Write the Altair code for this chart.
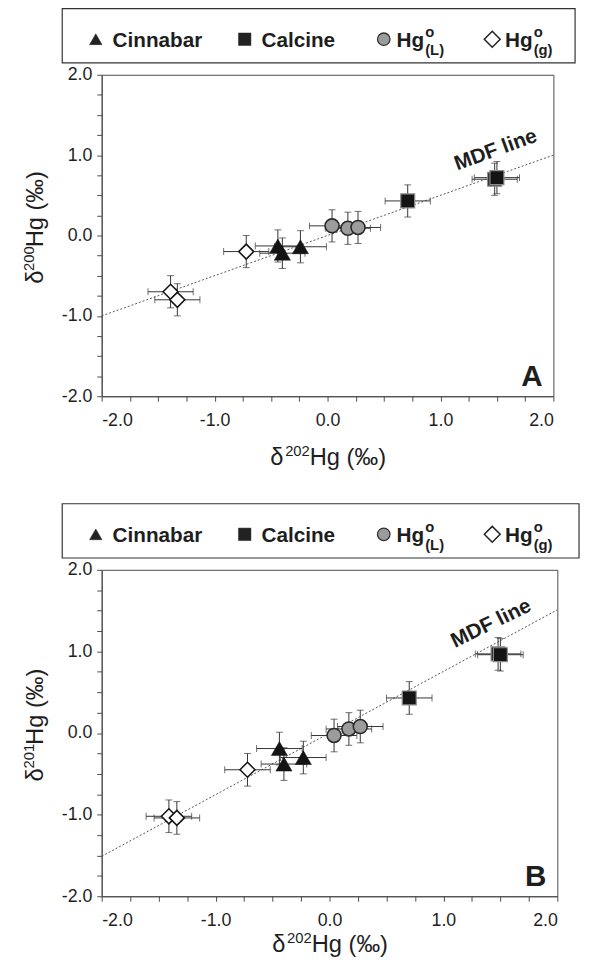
import altair as alt
import pandas as pd

# ---------------- data ----------------
groups = ["Cinnabar"] * 3 + ["Calcine"] * 3 + ["HgL"] * 3 + ["Hgg"] * 3

# Panel A: d200Hg vs d202Hg
a_x = [-0.44, -0.40, -0.24, 0.71, 1.48, 1.50, 0.04, 0.18, 0.27, -0.72, -1.39, -1.33]
a_y = [-0.13, -0.22, -0.14, 0.43, 0.70, 0.72, 0.12, 0.09, 0.10, -0.20, -0.70, -0.80]
a_xerr = [0.20, 0.20, 0.23, 0.20, 0.20, 0.20, 0.20, 0.20, 0.20, 0.20, 0.20, 0.20]
a_yerr = [0.20, 0.19, 0.20, 0.20, 0.20, 0.20, 0.20, 0.20, 0.20, 0.20, 0.20, 0.20]

# Panel B: d201Hg vs d202Hg
b_x = [-0.44, -0.40, -0.23, 0.70, 1.48, 1.50, 0.04, 0.17, 0.27, -0.72, -1.41, -1.34]
b_y = [-0.19, -0.38, -0.30, 0.43, 0.97, 0.96, -0.03, 0.05, 0.08, -0.45, -1.02, -1.04]
b_xerr = [0.20, 0.20, 0.20, 0.20, 0.20, 0.20, 0.20, 0.20, 0.20, 0.20, 0.20, 0.20]
b_yerr = [0.20, 0.20, 0.20, 0.20, 0.20, 0.20, 0.20, 0.20, 0.20, 0.20, 0.20, 0.20]

# MDF reference lines (end points)
mdf_x = [-2.0, 2.0]
a_mdf_y = [-1.0, 1.0]
b_mdf_y = [-1.51, 1.51]

legend_keys = ["Cinnabar", "Calcine", "HgL", "Hgg"]
legend_main = ["Cinnabar", "Calcine", "Hg", "Hg"]
legend_sup = ["", "", "o", "o"]
legend_sub = ["", "", "(L)", "(g)"]

tick_values = [-2.0, -1.75, -1.5, -1.25, -1.0, -0.75, -0.5, -0.25, 0.0,
               0.25, 0.5, 0.75, 1.0, 1.25, 1.5, 1.75, 2.0]

# ---------------- styling ----------------
FONT = "Liberation Sans"
INK = "#1e1e1e"
AXC = "#4a4a4a"

STYLE = {
    "Cinnabar": dict(shape="triangle-up", fill="#141414", stroke="#141414", strokeWidth=0.5, size=270),
    "Calcine": dict(shape="square", fill="#141414", stroke="#8c8c8c", strokeWidth=1.2, size=200),
    "HgL": dict(shape="circle", fill="#9c9c9c", stroke="#2a2a2a", strokeWidth=1.6, size=200),
    "Hgg": dict(shape="diamond", fill="#ffffff", stroke="#141414", strokeWidth=1.6, size=230),
}
LEG_STYLE = {
    "Cinnabar": dict(shape="triangle-up", fill="#222222", stroke="#222222", strokeWidth=0.5, size=160),
    "Calcine": dict(shape="square", fill="#222222", stroke="#222222", strokeWidth=0.5, size=160),
    "HgL": dict(shape="circle", fill="#9c9c9c", stroke="#333333", strokeWidth=1.3, size=160),
    "Hgg": dict(shape="diamond", fill="#ffffff", stroke="#222222", strokeWidth=1.5, size=260),
}

one = pd.DataFrame({"k": [0]})

label_expr = ("abs(datum.value - round(datum.value)) < 1e-6 ? "
              "((datum.value < 0 ? '-' : '') + format(abs(datum.value), '.1f')) : ''")


def make_axis(orient):
    return alt.Axis(values=tick_values, labelExpr=label_expr, title=None, grid=False,
                    tickSize=5, tickColor=AXC, domainColor=AXC, labelFont=FONT,
                    labelFontSize=18, labelColor=INK,
                    labelPadding=11 if orient == "x" else 5,
                    labelOverlap=False)


SC = alt.Scale(domain=[-2, 2], nice=False, zero=False)


def px_text(text, x, y, size, weight="normal", align="left", baseline="alphabetic", angle=None):
    kw = dict(font=FONT, fontSize=size, fontWeight=weight, align=align,
              baseline=baseline, color=INK)
    if angle is not None:
        kw["angle"] = angle
    return alt.Chart(one).mark_text(**kw).encode(
        x=alt.value(x), y=alt.value(y), text=alt.value(text))


def panel(xs, ys, xerr, yerr, mdf_y, ydigits, letter, mdf_pos, mdf_angle, W, H, xtitle_off):
    df = pd.DataFrame({"g": groups, "x": xs, "y": ys, "xe": xerr, "ye": yerr})
    base = alt.Chart(df).transform_calculate(
        xlo="datum.x - datum.xe", xhi="datum.x + datum.xe",
        ylo="datum.y - datum.ye", yhi="datum.y + datum.ye")
    XA = make_axis("x")
    YA = make_axis("y")

    def X(f):
        return alt.X(f, type="quantitative", scale=SC, axis=XA)

    def Y(f):
        return alt.Y(f, type="quantitative", scale=SC, axis=YA)

    layers = []
    # MDF line
    ldf = pd.DataFrame({"x": mdf_x, "y": mdf_y})
    layers.append(alt.Chart(ldf).mark_line(color="#555555", strokeWidth=1, strokeDash=[2, 2])
                  .encode(x=X("x"), y=Y("y")))
    # error bars
    ec = "#333333"
    layers.append(base.mark_rule(color=ec, strokeWidth=1).encode(x=X("xlo"), x2="xhi", y=Y("y")))
    layers.append(base.mark_rule(color=ec, strokeWidth=1).encode(x=X("x"), y=Y("ylo"), y2="yhi"))
    for f in ["xlo", "xhi"]:
        layers.append(base.mark_tick(color=ec, orient="vertical", size=7, thickness=1)
                      .encode(x=X(f), y=Y("y")))
    for f in ["ylo", "yhi"]:
        layers.append(base.mark_tick(color=ec, orient="horizontal", size=7, thickness=1)
                      .encode(x=X("x"), y=Y(f)))
    # markers
    for g in ["Hgg", "Cinnabar", "HgL", "Calcine"]:
        st = STYLE[g]
        layers.append(base.transform_filter(alt.datum.g == g)
                      .mark_point(filled=False, opacity=1, fillOpacity=1, **st)
                      .encode(x=X("x"), y=Y("y")))
    # MDF label
    tdf = pd.DataFrame({"x": [mdf_pos[0]], "y": [mdf_pos[1]], "t": ["MDF line"]})
    layers.append(alt.Chart(tdf).mark_text(font=FONT, fontSize=21, fontWeight="bold",
                                           color=INK, angle=mdf_angle, align="center",
                                           baseline="middle")
                  .encode(x=X("x"), y=Y("y"), text="t"))
    # panel letter
    layers.append(px_text(letter, W - 11, H - 10, 30, weight="bold", align="right"))

    # legend box
    ly = -28
    layers.append(alt.Chart(one).mark_rect(fill="white", stroke="#333333", strokeWidth=1.2)
                  .encode(x=alt.value(-40), x2=alt.value(W + 22),
                          y=alt.value(-67), y2=alt.value(-12)))
    sym_x = [-6, 145, 286, 396]
    txt_x = [11, 162, 299, 409]
    for i, key in enumerate(legend_keys):
        st = LEG_STYLE[key]
        layers.append(alt.Chart(one).mark_point(filled=False, opacity=1, fillOpacity=1, **st)
                      .encode(x=alt.value(sym_x[i]), y=alt.value(ly - 8)))
        layers.append(px_text(legend_main[i], txt_x[i], ly, 21, weight="bold"))
        if legend_sup[i]:
            layers.append(px_text(legend_sup[i], txt_x[i] + 29, ly - 10, 15, weight="bold"))
        if legend_sub[i]:
            layers.append(px_text(legend_sub[i], txt_x[i] + 29, ly + 8, 15, weight="bold"))

    # x-axis title  d202Hg (permil)
    xs0 = W / 2 - 58
    xb = H + xtitle_off
    layers.append(px_text("\u03b4", xs0, xb, 24))
    layers.append(px_text("202", xs0 + 15, xb - 9, 15))
    layers.append(px_text("Hg (\u2030)", xs0 + 40, xb, 24))
    # y-axis title
    yb = H / 2 - 8 + 57
    xt = -60
    layers.append(px_text("\u03b4", xt, yb, 24, angle=270))
    layers.append(px_text(ydigits, xt - 9, yb - 13, 15, angle=270))
    layers.append(px_text("Hg (\u2030)", xt, yb - 37, 24, angle=270))

    return alt.layer(*layers).properties(width=W, height=H)


pA = panel(a_x, a_y, a_xerr, a_yerr, a_mdf_y, "200", "A", (1.49, 1.06), 340, 458, 326, 70)
pB = panel(b_x, b_y, b_xerr, b_yerr, b_mdf_y, "201", "B", (1.42, 1.34), 334, 462, 331, 56)

chart = (alt.vconcat(pA, pB, spacing=31)
         .properties(padding={"left": 13, "top": -8, "right": 0, "bottom": 0}, background="white")
         .configure_view(stroke=AXC, strokeWidth=1))

chart.save("out.html", embed_options={"renderer": "svg", "actions": False})
